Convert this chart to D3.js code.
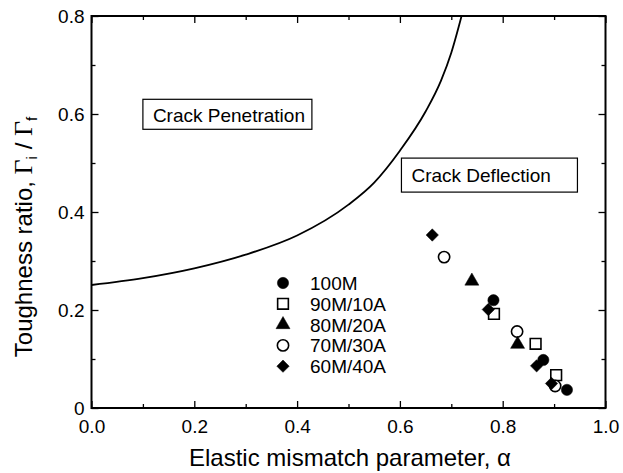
<!DOCTYPE html>
<html><head><meta charset="utf-8">
<script src="https://cdn.jsdelivr.net/npm/d3@7"></script>
<style>body{margin:0;background:#fff}svg{display:block;font-family:"Liberation Sans",Arial,sans-serif}</style>
</head><body><svg id="c" width="623" height="473"></svg>
<script>
// Criterion curve
const curveAlpha = [0, 0.1, 0.2, 0.3, 0.4, 0.5, 0.55, 0.6, 0.65, 0.68, 0.70, 0.72];
const curveRatio = [0.251, 0.265, 0.285, 0.313, 0.352, 0.415, 0.46, 0.525, 0.605, 0.668, 0.725, 0.80];
// Series
const seriesNames = ["100M", "90M/10A", "80M/20A", "70M/30A", "60M/40A"];
const seriesShapes = ["circle", "square", "triangle", "circle", "diamond"];
const seriesFilled = [true, false, true, false, true];
const alpha100M = [0.782, 0.879, 0.925];
const ratio100M = [0.220, 0.098, 0.037];
const alpha90M = [0.783, 0.864, 0.904];
const ratio90M = [0.192, 0.131, 0.067];
const alpha80M = [0.740, 0.829];
const ratio80M = [0.259, 0.130];
const alpha70M = [0.686, 0.828, 0.902];
const ratio70M = [0.308, 0.156, 0.045];
const alpha60M = [0.663, 0.772, 0.866, 0.895];
const ratio60M = [0.353, 0.201, 0.086, 0.050];
const xMajor = [0, 0.2, 0.4, 0.6, 0.8, 1.0];
const xMinor = [0.1, 0.3, 0.5, 0.7, 0.9];
const yMajor = [0, 0.2, 0.4, 0.6, 0.8];
const yMinor = [0.1, 0.3, 0.5, 0.7];
const regionLabels = ["Crack Penetration", "Crack Deflection"];

const seriesAlpha = [alpha100M, alpha90M, alpha80M, alpha70M, alpha60M];
const seriesRatio = [ratio100M, ratio90M, ratio80M, ratio70M, ratio60M];

const svg = d3.select("#c");
const L = 91.5, R = 605.5, T = 16, B = 408;
const x = d3.scaleLinear().domain([0, 1]).range([L, R]);
const y = d3.scaleLinear().domain([0, 0.8]).range([B, T]);

// Axes
const fs = 19;
function style(g){ g.select(".domain").remove(); g.selectAll("line").attr("stroke","#000").attr("stroke-width",1.3); g.selectAll("text").attr("font-size",fs).attr("fill","#000").attr("font-family","Liberation Sans, Arial, sans-serif"); }
svg.append("g").attr("transform",`translate(0,${B})`)
  .call(d3.axisBottom(x).tickValues(xMajor).tickSize(-7).tickPadding(12).tickFormat(d3.format(".1f"))).call(style);
svg.append("g").attr("transform",`translate(0,${B})`)
  .call(d3.axisBottom(x).tickValues(xMinor).tickSize(-4).tickFormat("")).call(style);
svg.append("g").attr("transform",`translate(0,${T})`)
  .call(d3.axisTop(x).tickValues(xMajor).tickSize(-7).tickFormat("")).call(style);
svg.append("g").attr("transform",`translate(0,${T})`)
  .call(d3.axisTop(x).tickValues(xMinor).tickSize(-4).tickFormat("")).call(style);
svg.append("g").attr("transform",`translate(${L},0)`)
  .call(d3.axisLeft(y).tickValues(yMajor).tickSize(-7).tickPadding(7).tickFormat(d => d === 0 ? "0" : d3.format(".1f")(d))).call(style);
svg.append("g").attr("transform",`translate(${L},0)`)
  .call(d3.axisLeft(y).tickValues(yMinor).tickSize(-4).tickFormat("")).call(style);
svg.append("g").attr("transform",`translate(${R},0)`)
  .call(d3.axisRight(y).tickValues(yMajor).tickSize(-7).tickFormat("")).call(style);
svg.append("g").attr("transform",`translate(${R},0)`)
  .call(d3.axisRight(y).tickValues(yMinor).tickSize(-4).tickFormat("")).call(style);

svg.append("rect").attr("x",L).attr("y",T).attr("width",R-L).attr("height",B-T)
  .attr("fill","none").attr("stroke","#000").attr("stroke-width",2);

// Axis titles
svg.append("text").attr("x",350).attr("y",466).attr("text-anchor","middle")
  .attr("font-size",24).text("Elastic mismatch parameter, α");
const yt = svg.append("text").attr("transform","translate(32,237) rotate(-90)")
  .attr("text-anchor","middle").attr("font-size",24);
yt.append("tspan").text("Toughness ratio, ");
yt.append("tspan").attr("font-family","Liberation Serif, Times New Roman, serif").attr("font-size",26).text("Γ");
yt.append("tspan").attr("font-size",15).attr("dy",5).text("i");
yt.append("tspan").attr("dy",-5).text(" / ");
yt.append("tspan").attr("font-family","Liberation Serif, Times New Roman, serif").attr("font-size",26).text("Γ");
yt.append("tspan").attr("font-size",15).attr("dy",5).text("f");

// Curve
const curvePts = curveAlpha.map((a,i)=>[a, curveRatio[i]]);
svg.append("path").datum(curvePts)
  .attr("d", d3.line().x(d=>x(d[0])).y(d=>y(d[1])).curve(d3.curveMonotoneX))
  .attr("fill","none").attr("stroke","#000").attr("stroke-width",1.8);

// Region boxes
const boxes = [{a:0.100, r:0.630, w:169, h:30, tx:10, ty:22.5}, {a:0.603, r:0.510, w:176, h:34, tx:10, ty:24}];
boxes.forEach((b,i)=>{
  const g = svg.append("g").attr("transform",`translate(${x(b.a)},${y(b.r)})`);
  g.append("rect").attr("width",b.w).attr("height",b.h).attr("fill","#fff").attr("stroke","#000").attr("stroke-width",1.2);
  g.append("text").attr("x",b.tx).attr("y",b.ty).attr("font-size",fs).text(regionLabels[i]);
});

// Markers
function sym(shape){
  if (shape==="circle") return d3.symbol().type(d3.symbolCircle).size(100)();
  if (shape==="square") return d3.symbol().type(d3.symbolSquare).size(115)();
  if (shape==="triangle") return d3.symbol().type(d3.symbolTriangle).size(85)();
  return d3.symbol().type(d3.symbolSquare).size(76)();
}
function drawMarker(g, i, px, py){
  g.append("path").attr("d", sym(seriesShapes[i]))
    .attr("transform", `translate(${px},${py})` + (seriesShapes[i]==="diamond" ? " rotate(45)" : ""))
    .attr("fill", seriesFilled[i] ? "#000" : "#fff").attr("stroke","#000").attr("stroke-width", seriesFilled[i] ? 0.5 : 1.6);
}
const pts = svg.append("g");
[1,3,2,4,0].forEach(i=>{
  seriesAlpha[i].forEach((a,j)=> drawMarker(pts, i, x(a), y(seriesRatio[i][j])));
});

// Legend
const lg = svg.append("g");
seriesNames.forEach((n,i)=>{
  const cy = 283 + i*20.8;
  drawMarker(lg, i, 283, cy);
  lg.append("text").attr("x",310).attr("y",cy+7).attr("font-size",fs).text(n);
});
</script></body></html>
